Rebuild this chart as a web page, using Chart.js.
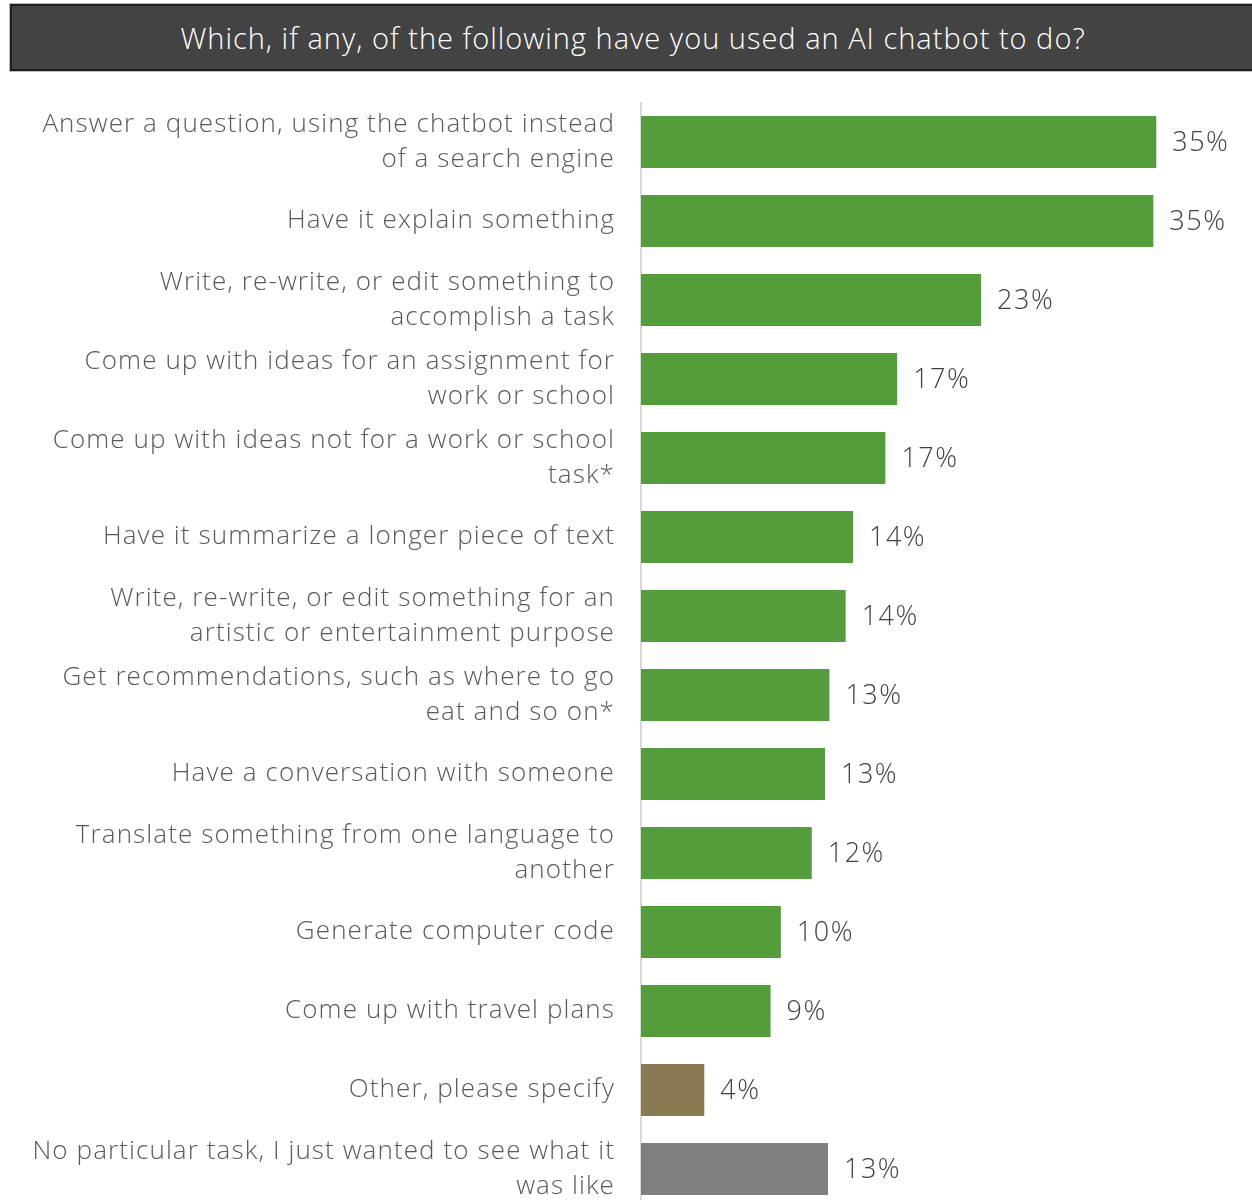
<!DOCTYPE html>
<html>
<head>
<meta charset="utf-8">
<script src="https://cdn.jsdelivr.net/npm/chart.js@4.4.1/dist/chart.umd.min.js"></script>
<style>
  html, body { margin: 0; padding: 0; background: #fff; overflow: hidden; }
  #wrap { position: relative; width: 1252px; height: 1200px; }
  #title {
    position: absolute; left: 10px; top: 4px; width: 1250px; height: 63px;
    background: #434343; border: 2px solid #1f1f1f; box-shadow: 0 0 0 1px #bdbdbd;
    color: #fff; font-family: "Open Sans", Lato, sans-serif; font-weight: 300;
    font-size: 29px; letter-spacing: 1px; line-height: 63px; text-align: center;
    text-indent: -8px; white-space: nowrap;
  }
  #chart { position: absolute; left: 0; top: 0; }
</style>
</head>
<body>
<div id="wrap">
  <div id="title">Which, if any, of the following have you used an AI chatbot to do?</div>
  <canvas id="chart" width="1252" height="1210"></canvas>
</div>
<script>
// Survey answers (one entry per bar, top to bottom)
const categories = [
  ["Answer a question, using the chatbot instead", "of a search engine"],
  "Have it explain something",
  ["Write, re-write, or edit something to", "accomplish a task"],
  ["Come up with ideas for an assignment for", "work or school"],
  ["Come up with ideas not for a work or school", "task*"],
  "Have it summarize a longer piece of text",
  ["Write, re-write, or edit something for an", "artistic or entertainment purpose"],
  ["Get recommendations, such as where to go", "eat and so on*"],
  "Have a conversation with someone",
  ["Translate something from one language to", "another"],
  "Generate computer code",
  "Come up with travel plans",
  "Other, please specify",
  ["No particular task, I just wanted to see what it", "was like"]
];

// Share of respondents, percent
const shares = [35.0, 34.8, 23.1, 17.4, 16.6, 14.4, 13.9, 12.8, 12.5, 11.6, 9.5, 8.8, 4.3, 12.7];

// Bar group: task answers, "other", and "no particular task"
const groups = ["task", "task", "task", "task", "task", "task", "task", "task", "task", "task", "task", "task", "other", "none"];

const groupColors = { task: "#539e3a", other: "#8a7a51", none: "#7f7f7f" };

const FONT = "'Open Sans', Lato, sans-serif";

// Slightly open tracking for the category labels (also used when they are measured)
const labelTracking = {
  id: "labelTracking",
  beforeUpdate(chart) { chart.ctx.letterSpacing = "1.1px"; },
  beforeDraw(chart) { chart.ctx.letterSpacing = "1.1px"; }
};

// Writes the rounded percentage just past the end of each bar
const valueLabels = {
  id: "valueLabels",
  afterDatasetsDraw(chart) {
    const ctx = chart.ctx;
    const meta = chart.getDatasetMeta(0);
    ctx.save();
    ctx.letterSpacing = "1.5px";
    ctx.font = "300 27px " + FONT;
    ctx.fillStyle = "#404040";
    ctx.textAlign = "left";
    ctx.textBaseline = "middle";
    meta.data.forEach((bar, i) => {
      ctx.fillText(Math.round(shares[i]) + "%", bar.x + 16, bar.y + 1);
    });
    ctx.restore();
  }
};

new Chart(document.getElementById("chart"), {
  type: "bar",
  data: {
    labels: categories,
    datasets: [{
      data: shares,
      backgroundColor: groups.map(g => groupColors[g]),
      borderWidth: 0,
      barPercentage: 0.66,
      categoryPercentage: 1.0
    }]
  },
  options: {
    indexAxis: "y",
    responsive: false,
    animation: false,
    layout: { padding: { top: 102.5, bottom: 1.5, left: 0, right: 0 } },
    plugins: {
      legend: { display: false },
      tooltip: { enabled: false },
      title: { display: false }
    },
    scales: {
      x: {
        display: false,
        min: 0,
        max: 41.5
      },
      y: {
        afterFit(scale) {
          scale.width = 641;
          scale.paddingTop = 0;
          scale.paddingBottom = 0;
        },
        grid: { display: false, drawTicks: false },
        border: { display: true, color: "#d9d9d9", width: 2 },
        ticks: {
          padding: 26,
          color: "#595959",
          font: { family: FONT, size: 26, weight: 300, lineHeight: 1.33 }
        }
      }
    }
  },
  plugins: [labelTracking, valueLabels]
});
</script>
</body>
</html>
